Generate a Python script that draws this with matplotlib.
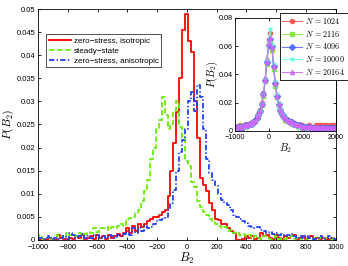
import numpy as np
import matplotlib
matplotlib.use('Agg')
import matplotlib.pyplot as plt

plt.rcParams['font.family'] = ['Liberation Sans', 'DejaVu Sans']
plt.rcParams['mathtext.fontset'] = 'cm'

# main panel: histogram bin centres and P(B2) values
b2 = np.arange(-1000, 1001, 20)

p_iso = [0.0005, 0.0, 0.0003, 0.0, 0.0005, 0.0003, 0.0, 0.001, 0.0005, 0.0003,
         0.0, 0.0005, 0.0003, 0.0008, 0.0005, 0.001, 0.0003, 0.0005, 0.0008, 0.0003,
         0.001, 0.0005, 0.0008, 0.0003, 0.001, 0.0005, 0.0008, 0.0013, 0.0008, 0.0015,
         0.0025, 0.0015, 0.003, 0.002, 0.0035, 0.0028, 0.0035, 0.004, 0.0045, 0.005,
         0.005, 0.0055, 0.006, 0.0065, 0.0095, 0.015, 0.021, 0.0277, 0.035, 0.0454,
         0.049, 0.043, 0.0407, 0.030, 0.022, 0.0135, 0.012, 0.0105, 0.008, 0.0065,
         0.0045, 0.0043, 0.0035, 0.0035, 0.0025, 0.002, 0.0015, 0.0, 0.0, 0.0003,
         0.0008, 0.0005, 0.0008, 0.0003, 0.0005, 0.0015, 0.0008, 0.001, 0.0005, 0.0003,
         0.001, 0.0005, 0.0003, 0.0008, 0.0005, 0.0008, 0.001, 0.0003, 0.0005, 0.0008,
         0.0003, 0.0005, 0.0008, 0.0003, 0.0005, 0.0003, 0.0005, 0.0, 0.0003, 0.0005,
         0.0003]

p_steady = [0.0005, 0.001, 0.0003, 0.0005, 0.0008, 0.0003, 0.0005, 0.001, 0.0008, 0.0005,
            0.0015, 0.001, 0.0013, 0.0008, 0.0015, 0.001, 0.0012, 0.0018, 0.0015, 0.0025,
            0.0018, 0.0025, 0.0025, 0.0028, 0.0022, 0.0028, 0.0025, 0.003, 0.0035, 0.003,
            0.0045, 0.0048, 0.005, 0.0058, 0.0065, 0.0085, 0.0105, 0.013, 0.0175, 0.020,
            0.024, 0.026, 0.031, 0.027, 0.024, 0.025, 0.028, 0.030, 0.0245, 0.022,
            0.017, 0.016, 0.0125, 0.0115, 0.0085, 0.0071, 0.006, 0.0055, 0.0045, 0.004,
            0.0035, 0.003, 0.0025, 0.0028, 0.002, 0.0022, 0.0015, 0.0018, 0.001, 0.0013,
            0.0008, 0.001, 0.0005, 0.0008, 0.0005, 0.0003, 0.0008, 0.0005, 0.0003, 0.0005,
            0.0008, 0.0003, 0.0005, 0.0003, 0.0005, 0.0008, 0.0003, 0.0005, 0.0003, 0.0005,
            0.0003, 0.0005, 0.0003, 0.0005, 0.0003, 0.0005, 0.0003, 0.0005, 0.0003, 0.0003,
            0.0005]

p_aniso = [0.0003, 0.0005, 0.0003, 0.0005, 0.0008, 0.0003, 0.0005, 0.0003, 0.0005, 0.0008,
           0.0003, 0.0015, 0.001, 0.0005, 0.0008, 0.0012, 0.0005, 0.0008, 0.0005, 0.001,
           0.001, 0.0005, 0.0008, 0.0005, 0.001, 0.0008, 0.0005, 0.001, 0.0008, 0.0012,
           0.002, 0.001, 0.0025, 0.0015, 0.0025, 0.002, 0.003, 0.0025, 0.0028, 0.0035,
           0.004, 0.0043, 0.0045, 0.005, 0.0065, 0.008, 0.0108, 0.015, 0.019, 0.0216,
           0.024, 0.030, 0.032, 0.028, 0.0335, 0.031, 0.024, 0.0175, 0.0145, 0.013,
           0.012, 0.010, 0.0087, 0.008, 0.0075, 0.0065, 0.0055, 0.005, 0.0045, 0.004,
           0.0037, 0.003, 0.0028, 0.0025, 0.0028, 0.0022, 0.002, 0.0015, 0.0018, 0.0012,
           0.0015, 0.001, 0.0012, 0.0008, 0.001, 0.0012, 0.0008, 0.0005, 0.0008, 0.0005,
           0.0008, 0.0005, 0.0008, 0.0003, 0.0005, 0.0008, 0.0003, 0.0005, 0.0008, 0.0005,
           0.0003]

main_labels = ['zero\u2212stress, isotropic', 'steady\u2212state',
               'zero\u2212stress, anisotropic']
xticks_main = np.arange(-1000, 1001, 200)
yticks_main = np.arange(0, 0.0501, 0.005)
ytick_labels_main = ['0', '0.005', '0.01', '0.015', '0.02', '0.025',
                     '0.03', '0.035', '0.04', '0.045', '0.05']

# inset: size dependence
b2_in = np.arange(-1000, 2001, 50)
sizes = [1024, 2116, 4096, 10000, 20164]

p_1024 = [0.003, 0.002, 0.003, 0.004, 0.003, 0.003, 0.004, 0.004, 0.005, 0.005,
          0.006, 0.006, 0.008, 0.009, 0.012, 0.015, 0.020, 0.027, 0.037, 0.050,
          0.064, 0.069, 0.058, 0.045, 0.033, 0.024, 0.019, 0.015, 0.012, 0.010,
          0.009, 0.008, 0.007, 0.006, 0.006, 0.005, 0.005, 0.004, 0.004, 0.004,
          0.004, 0.003, 0.003, 0.003, 0.004, 0.003, 0.003, 0.003, 0.004, 0.003,
          0.004, 0.004, 0.003, 0.004, 0.003, 0.004, 0.003, 0.004, 0.003, 0.004, 0.003]
p_2116 = [0.002, 0.003, 0.002, 0.003, 0.003, 0.004, 0.003, 0.004, 0.004, 0.005,
          0.005, 0.006, 0.007, 0.009, 0.010, 0.014, 0.018, 0.025, 0.035, 0.047,
          0.060, 0.063, 0.057, 0.044, 0.032, 0.024, 0.018, 0.014, 0.011, 0.010,
          0.008, 0.007, 0.007, 0.006, 0.005, 0.005, 0.004, 0.004, 0.003, 0.003,
          0.003, 0.003, 0.002, 0.003, 0.002, 0.002, 0.002, 0.002, 0.002, 0.002,
          0.001, 0.002, 0.002, 0.001, 0.002, 0.001, 0.002, 0.001, 0.001, 0.002, 0.001]
p_4096 = [0.003, 0.003, 0.002, 0.003, 0.003, 0.003, 0.004, 0.004, 0.004, 0.005,
          0.005, 0.006, 0.007, 0.009, 0.011, 0.014, 0.019, 0.026, 0.036, 0.049,
          0.061, 0.065, 0.060, 0.046, 0.034, 0.025, 0.019, 0.015, 0.012, 0.010,
          0.009, 0.008, 0.007, 0.006, 0.006, 0.005, 0.005, 0.004, 0.004, 0.004,
          0.003, 0.003, 0.003, 0.003, 0.003, 0.002, 0.002, 0.002, 0.002, 0.002,
          0.002, 0.002, 0.002, 0.002, 0.002, 0.002, 0.002, 0.002, 0.002, 0.002, 0.002]
p_10000 = [0.002, 0.002, 0.003, 0.003, 0.003, 0.003, 0.003, 0.004, 0.004, 0.004,
           0.005, 0.006, 0.007, 0.008, 0.011, 0.014, 0.019, 0.026, 0.037, 0.050,
           0.063, 0.072, 0.061, 0.047, 0.035, 0.026, 0.020, 0.015, 0.012, 0.010,
           0.009, 0.007, 0.007, 0.006, 0.005, 0.005, 0.004, 0.004, 0.003, 0.003,
           0.003, 0.003, 0.002, 0.002, 0.002, 0.002, 0.002, 0.002, 0.001, 0.002,
           0.001, 0.001, 0.001, 0.001, 0.001, 0.001, 0.001, 0.001, 0.001, 0.001, 0.001]
p_20164 = [0.003, 0.003, 0.003, 0.003, 0.003, 0.004, 0.004, 0.004, 0.005, 0.005,
           0.006, 0.006, 0.007, 0.009, 0.011, 0.014, 0.019, 0.026, 0.036, 0.049,
           0.062, 0.066, 0.059, 0.046, 0.034, 0.025, 0.019, 0.015, 0.012, 0.010,
           0.009, 0.008, 0.007, 0.006, 0.006, 0.005, 0.005, 0.004, 0.004, 0.004,
           0.003, 0.003, 0.003, 0.003, 0.003, 0.003, 0.002, 0.003, 0.002, 0.003,
           0.002, 0.002, 0.003, 0.002, 0.002, 0.002, 0.002, 0.002, 0.002, 0.002, 0.002]

inset_colors = ['#ff4d4d', '#80e633', '#4d66ff', '#66ffdd', '#cc66ff']
inset_markers = ['o', 's', 'D', '*', '^']
xticks_in = [-1000, 0, 1000, 2000]
yticks_in = [0, 0.02, 0.04, 0.06, 0.08]
ytick_labels_in = ['0', '0.02', '0.04', '0.06', '0.08']

fig = plt.figure(figsize=(3.48, 2.66), dpi=100)
ax = fig.add_axes([0.109, 0.098, 0.856, 0.868])

ax.step(b2, p_iso, where='mid', color='red', lw=1.3, label=main_labels[0])
ax.step(b2, p_steady, where='mid', color='#66ee00', lw=1.3, ls=(0, (3, 1.5)),
        label=main_labels[1])
ax.step(b2, p_aniso, where='mid', color='#2040ff', lw=1.3, ls=(0, (3, 1.2, 0.8, 1.2)),
        label=main_labels[2])

ax.set_xlim(-1000, 1000)
ax.set_ylim(0, 0.05)
ax.set_xticks(xticks_main)
ax.set_yticks(yticks_main)
ax.set_yticklabels(ytick_labels_main)
ax.tick_params(direction='in', labelsize=5.5, top=True, right=True, length=2.5,
               width=0.6, pad=2)
ax.tick_params(axis='x', pad=3)
for s in ax.spines.values():
    s.set_linewidth(0.6)
ax.set_xlabel('$B_2$', fontsize=9, labelpad=0)
ax.set_ylabel('$P(B_2)$', fontsize=8.5)
ax.yaxis.set_label_coords(-0.073, 0.5)

leg = ax.legend(loc='upper left', bbox_to_anchor=(0.132, 0.872),
                bbox_transform=fig.transFigure, fontsize=5.8, frameon=True,
                fancybox=False, handlelength=2.8, borderpad=0.35,
                labelspacing=0.3, handletextpad=0.3, borderaxespad=0)
leg.get_frame().set_edgecolor('black')
leg.get_frame().set_linewidth(0.6)

# inset
axi = fig.add_axes([0.675, 0.508, 0.29, 0.425])
series = [p_1024, p_2116, p_4096, p_10000, p_20164]
for n, p, c, m in zip(sizes, series, inset_colors, inset_markers):
    axi.plot(b2_in, p, color=c, marker=m, ms=3, lw=0.8, mec=c, mfc=c,
             alpha=0.85, label='$N\\,=\\,%d$' % n)
axi.set_xlim(-1000, 2000)
axi.set_ylim(0, 0.08)
axi.set_xticks(xticks_in)
axi.set_yticks(yticks_in)
axi.set_yticklabels(ytick_labels_in)
axi.tick_params(direction='in', labelsize=5.2, top=True, right=True, length=2,
                width=0.6, pad=1.5)
axi.tick_params(axis='x', pad=2.5)
for s in axi.spines.values():
    s.set_linewidth(0.6)
axi.set_xlabel('$B_2$', fontsize=7.5, labelpad=0)
axi.set_ylabel('$P(B_2)$', fontsize=7.5)
axi.yaxis.set_label_coords(-0.15, 0.5)

legi = axi.legend(loc='upper right', bbox_to_anchor=(0.999, 0.951),
                  bbox_transform=fig.transFigure, fontsize=5.8, frameon=True,
                  fancybox=False, framealpha=1, handlelength=2.4, borderpad=0.35,
                  labelspacing=0.35, handletextpad=0.4, borderaxespad=0)
legi.get_frame().set_edgecolor('black')
legi.get_frame().set_linewidth(0.6)

fig.savefig('out.png', dpi=100)
